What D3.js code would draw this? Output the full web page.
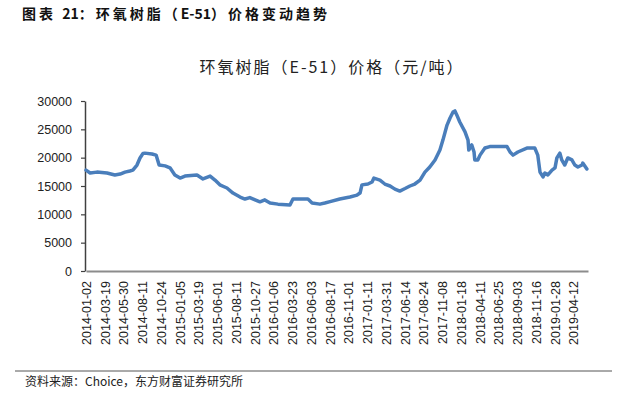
<!DOCTYPE html>
<html>
<head>
<meta charset="utf-8">
<script src="https://cdn.jsdelivr.net/npm/d3@7"></script>
<style>
  body { margin: 0; background: #fff; }
  svg { display: block; }
</style>
</head>
<body>
<div id="chart"></div>
<script>
// trading-day index (from 2014-01-02) and price (元/吨)
var dayIndex = [0, 11, 29, 56, 77, 91, 104, 117, 125, 136, 144, 152, 157, 176, 187, 195, 211, 224, 237, 251,
    264, 296, 312, 331, 344, 357, 376, 392, 411, 424, 437, 451, 464, 477, 491, 512, 544, 552, 592, 603,
    624, 637, 651, 677, 704, 723, 731, 736, 752, 763, 768, 784, 797, 811, 824, 837, 851, 864, 877, 891,
    904, 917, 931, 944, 952, 963, 971, 979, 984, 989, 997, 1011, 1019, 1021, 1029, 1035, 1037, 1045, 1051, 1064,
    1077, 1123, 1131, 1139, 1152, 1176, 1197, 1205, 1211, 1219, 1224, 1232, 1243, 1251, 1256, 1264, 1269, 1277, 1285, 1296,
    1304, 1312, 1323, 1325, 1336];
var price = [17800, 17300, 17450, 17300, 16950, 17100, 17450, 17650, 17800, 18700, 19950, 20750, 20800, 20650, 20450, 18700, 18550, 18200, 16950, 16400,
    16750, 16950, 16250, 16750, 16050, 15200, 14650, 13750, 13050, 12700, 12950, 12550, 12200, 12550, 12000, 11800, 11650, 12700, 12700, 12000,
    11800, 12000, 12250, 12700, 13050, 13400, 13750, 15200, 15350, 15700, 16400, 16050, 15350, 15000, 14450, 14100, 14550, 15000, 15350, 16050,
    17450, 18350, 19600, 21350, 23100, 25750, 27000, 28050, 28250, 27550, 26300, 24550, 23100, 21350, 22250, 21000, 19600, 19600, 20450, 21700,
    21950, 21950, 21000, 20450, 21000, 21700, 21700, 20450, 17450, 16600, 17300, 16950, 17800, 18200, 19950, 20800, 19600, 18700, 19950, 19600,
    18700, 18350, 18700, 19050, 18000];

var tickLabels = ["2014-01-02", "2014-03-19", "2014-05-30", "2014-08-11", "2014-10-24", "2015-01-05", "2015-03-19",
    "2015-06-01", "2015-08-11", "2015-10-27", "2016-01-06", "2016-03-23", "2016-06-03", "2016-08-17", "2016-11-01",
    "2017-01-11", "2017-03-31", "2017-06-14", "2017-08-24", "2017-11-08", "2018-01-18", "2018-04-11", "2018-06-25",
    "2018-09-03", "2018-11-16", "2019-01-28", "2019-04-12"];
var labelStep = 50;
var lastDay = 1339;
var yTicks = [0, 5000, 10000, 15000, 20000, 25000, 30000];

var width = 619;
var height = 396;

var canvas = d3.select("#chart")
    .append("svg")
    .attr("width", width)
    .attr("height", height)

var x = d3.scaleLinear()
    .domain([0, lastDay])
    .range([86, 588]);

var y = d3.scaleLinear()
    .domain([0, 30000])
    .range([271, 101]);

// header
var header = canvas.append("text")
    .attr("x", 22)
    .attr("y", 19)
    .attr("font-family", "'Noto Sans CJK SC', sans-serif")
    .attr("font-size", 14)
    .attr("font-weight", "bold")
    .attr("fill", "#111")

header.append("tspan").attr("letter-spacing", 3).text("图表 ")
header.append("tspan").text("21")
header.append("tspan").attr("letter-spacing", 3).text("：环氧树脂（")
header.append("tspan").text("E-51")
header.append("tspan").attr("letter-spacing", 3).text("）价格变动趋势")

canvas.append("text")
    .attr("x", 332)
    .attr("y", 73)
    .attr("text-anchor", "middle")
    .attr("font-family", "'Noto Sans CJK SC', sans-serif")
    .attr("font-size", 16)
    .attr("letter-spacing", 2)
    .attr("fill", "#222")
    .text("环氧树脂（E-51）价格（元/吨）")

// y axis
var yAxis = g => g
    .attr("transform", "translate(85, 0)")
    .call(d3.axisLeft(y).tickValues(yTicks).tickFormat(d3.format("d")).tickSize(4).tickSizeOuter(0).tickPadding(9))
    .call(g => g.select(".domain").attr("stroke", "#404040").attr("stroke-width", 1.5))
    .call(g => g.selectAll(".tick line").attr("stroke", "#404040").attr("stroke-width", 1.2))
    .call(g => g.selectAll(".tick text")
        .attr("font-family", "'Liberation Sans', Arial, sans-serif")
        .attr("font-size", 12.5)
        .attr("fill", "#222"))

canvas.append("g").call(yAxis);

// x axis (category style, labels every 50 trading days)
var xAxis = g => g
    .attr("transform", "translate(0, 271)")
    .call(d3.axisBottom(x)
        .tickValues(tickLabels.map((d, i) => i * labelStep))
        .tickFormat((d, i) => tickLabels[i])
        .tickSize(0)
        .tickSizeOuter(0))
    .call(g => g.select(".domain").attr("stroke", "#8c8c8c").attr("stroke-width", 2))
    .call(g => g.selectAll(".tick text")
        .attr("font-family", "'Liberation Sans', Arial, sans-serif")
        .attr("font-size", 12.5)
        .attr("fill", "#222")
        .attr("text-anchor", "end")
        .attr("transform", "translate(0, 10) rotate(-90)")
        .attr("x", 0)
        .attr("y", 0)
        .attr("dy", "0.35em"))

canvas.append("g").call(xAxis);

// price line
var line = d3.line()
    .x((d, i) => x(dayIndex[i]))
    .y(d => y(d));

canvas.append("path")
    .datum(price)
    .attr("fill", "none")
    .attr("stroke", "#4a7ebb")
    .attr("stroke-width", 3.5)
    .attr("stroke-linejoin", "round")
    .attr("stroke-linecap", "round")
    .attr("d", line)

// footer
canvas.append("line")
    .attr("x1", 15)
    .attr("x2", 612)
    .attr("y1", 371)
    .attr("y2", 371)
    .attr("stroke", "#555")
    .attr("stroke-width", 1)

canvas.append("text")
    .attr("x", 25)
    .attr("y", 386)
    .attr("font-family", "'Noto Sans CJK SC', sans-serif")
    .attr("font-size", 12)
    .attr("fill", "#222")
    .text("资料来源：Choice，东方财富证券研究所")
</script>
</body>
</html>
